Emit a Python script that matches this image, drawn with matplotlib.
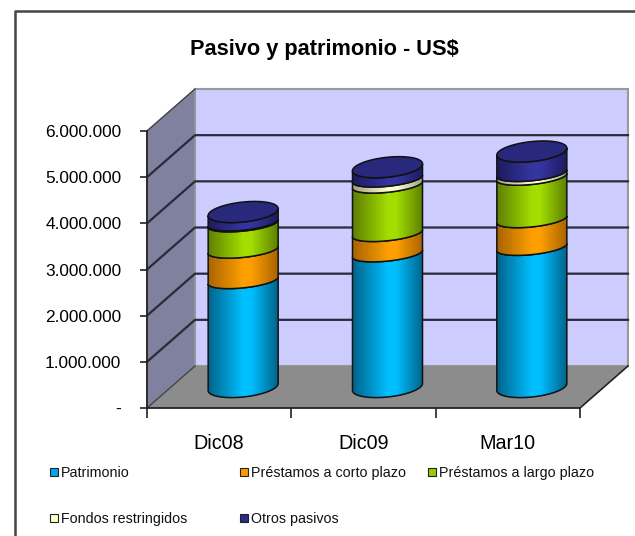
import matplotlib
matplotlib.use('Agg')
import matplotlib.pyplot as plt
import numpy as np
from matplotlib.colors import LinearSegmentedColormap
from matplotlib.lines import Line2D
from matplotlib.patches import PathPatch, Polygon, Rectangle
from matplotlib.path import Path
from matplotlib.ticker import FuncFormatter
from matplotlib.transforms import IdentityTransform

plt.rcParams['font.family'] = ['Liberation Sans', 'DejaVu Sans']

categories = ['Dic08', 'Dic09', 'Mar10']
series_names = ['Patrimonio', 'Préstamos a corto plazo', 'Préstamos a largo plazo',
                'Fondos restringidos', 'Otros pasivos']
patrimonio = [2310000, 2890000, 3030000]
corto_plazo = [660000, 440000, 600000]
largo_plazo = [570000, 1050000, 920000]
fondos = [20000, 130000, 80000]
otros = [230000, 250000, 470000]
y_ticks = [0, 1000000, 2000000, 3000000, 4000000, 5000000, 6000000]

series = [patrimonio, corto_plazo, largo_plazo, fondos, otros]
bright = ['#00BFFF', '#FF9F00', '#A3DE00', '#FFFFD2', '#3535A0']
dark = ['#00648C', '#A86400', '#5E8000', '#A0A080', '#1C1C60']
legend_fill = ['#00A6E6', '#FF9900', '#99CC00', '#FFFFCC', '#2B2B8C']

W, H = 635, 536
DEPTH_X, DEPTH_Y = 48, 42   # pixels from front plane to back wall
RX, TILT = 35, 3.5
RY_OUTER, RY_INNER = 10, 7.5   # end caps bulge more than the joins between segments


def px(x, y):
    # image pixel (y down) to figure fraction
    return x / W, 1 - y / H


fig = plt.figure(figsize=(W / 100, H / 100), dpi=100)

# chart frame only shows on the top and left
fx, fy = zip(px(15, H), px(15, 11), px(W, 11))
fig.add_artist(Line2D(fx, fy, transform=fig.transFigure, color='#444444', lw=1.8))

x0, y0 = px(147, 408)
x1, y1 = px(580, 131)
ax = fig.add_axes([x0, y0, x1 - x0, y1 - y0])
ax.set_xlim(0, 3)
ax.set_ylim(0, 6000000)
ax.autoscale(False)
ax.patch.set_visible(False)
for s in ['top', 'right']:
    ax.spines[s].set_visible(False)
for s in ['left', 'bottom']:
    ax.spines[s].set_color('#222222')
    ax.spines[s].set_linewidth(1.3)
    ax.spines[s].set_zorder(20)

ax.set_yticks(y_ticks)
ax.yaxis.set_major_formatter(FuncFormatter(
    lambda v, p: '-' if v == 0 else f'{int(v):,}'.replace(',', '.')))
ax.tick_params(axis='y', labelsize=12.4, length=5, width=1.2, color='#222222', pad=13.5)
ax.set_xticks([0, 1, 2, 3])
ax.set_xticklabels([])
ax.set_xticks([0.5, 1.5, 2.5], categories, minor=True)
ax.tick_params(axis='x', which='major', length=7, width=1.2, color='#222222')
ax.tick_params(axis='x', which='minor', length=0, labelsize=14.2, pad=19)

fig.canvas.draw()
ident = IdentityTransform()


def disp(x, v, depth=0.0):
    p = ax.transData.transform((x, v))
    return p[0] + DEPTH_X * depth, p[1] + DEPTH_Y * depth


def poly(points, **kw):
    ax.add_patch(Polygon(points, closed=True, transform=ident, clip_on=False, **kw))


ymax = y_ticks[-1]
# back wall, side wall, floor
poly([disp(0, 0, 1), disp(3, 0, 1), disp(3, ymax, 1), disp(0, ymax, 1)],
     fc='#CCCCFF', ec='#999999', lw=1.5, zorder=1)
poly([disp(0, 0), disp(0, 0, 1), disp(0, ymax, 1), disp(0, ymax)],
     fc='#80809F', ec='#999999', lw=1, zorder=1)
poly([disp(0, 0), disp(3, 0), disp(3, 0, 1), disp(0, 0, 1)],
     fc='#8C8C8C', ec='none', zorder=1)
ax.add_line(Line2D(*zip(disp(3, 0), disp(3, 0, 1)), transform=ident, clip_on=False,
                   color='#222222', lw=1.2, zorder=3))

# gridlines
for v in y_ticks[1:-1]:
    pts = [disp(0, v), disp(0, v, 1), disp(3, v, 1)]
    ax.add_line(Line2D(*zip(*pts), transform=ident, clip_on=False,
                       color='#2A2A38', lw=1.6, zorder=2))
for v in [0, ymax]:
    ax.add_line(Line2D(*zip(disp(0, v), disp(0, v, 1)), transform=ident, clip_on=False,
                       color='#444444', lw=1.0, zorder=2))

t_front = np.linspace(np.pi, 2 * np.pi, 60)
t_all = np.linspace(0, 2 * np.pi, 120)


def ring(cx, cy, t, ry):
    return np.column_stack([cx + RX * np.cos(t), cy + TILT * np.cos(t) + ry * np.sin(t)])


for i in range(len(categories)):
    bottom = 0
    for j, vals in enumerate(series):
        cx, cy0 = disp(i + 0.5, bottom, 0.5)
        cy1 = disp(i + 0.5, bottom + vals[i], 0.5)[1]
        ry_low = RY_OUTER if j == 0 else RY_INNER
        ry_high = RY_OUTER if j == len(series) - 1 else RY_INNER
        low = ring(cx, cy0, t_front, ry_low)
        high = ring(cx, cy1, t_front, ry_high)[::-1]
        verts = np.vstack([low, high, low[:1]])
        path = Path(verts, closed=True)
        z = 5 + j * 0.1 + i

        cmap = LinearSegmentedColormap.from_list(
            'side', [(0, dark[j]), (0.5, bright[j]), (0.62, bright[j]), (1, dark[j])])
        grad = np.linspace(0, 1, 128).reshape(1, -1)
        im = ax.imshow(grad, cmap=cmap, aspect='auto', transform=ident, zorder=z,
                       extent=[cx - RX, cx + RX, cy0 - 30, cy1 + 30])
        clip = PathPatch(path, transform=ident, fc='none', ec='none')
        ax.add_patch(clip)
        im.set_clip_path(clip)
        ax.add_patch(PathPatch(path, transform=ident, fc='none', ec='#111111', lw=1.1,
                               clip_on=False, zorder=z + 0.01))
        bottom += vals[i]
    # top cap
    cx, cy = disp(i + 0.5, bottom, 0.5)
    ax.add_patch(PathPatch(Path(ring(cx, cy, t_all, RY_OUTER), closed=True), transform=ident,
                           fc='#28287C', ec='#111111', lw=1.1, clip_on=False,
                           zorder=5 + i + 0.9))
ax.set_xlim(0, 3)
ax.set_ylim(0, 6000000)

fig.text(*px(324, 50), 'Pasivo y patrimonio - US$', fontsize=15.7, fontweight='bold',
         ha='center', va='center')

# legend
legend_x = [50, 240, 428, 50, 240]
legend_y = [472, 472, 472, 518, 518]
for name, col, lx, ly in zip(series_names, legend_fill, legend_x, legend_y):
    fig.patches.append(Rectangle(px(lx, ly + 4), 8 / W, 8 / H, transform=fig.transFigure,
                                 fc=col, ec='#222222', lw=0.8))
    fig.text(*px(lx + 11, ly + 1), name, fontsize=10.3, ha='left', va='center', color='#111111')

fig.savefig('out.png', dpi=100)
